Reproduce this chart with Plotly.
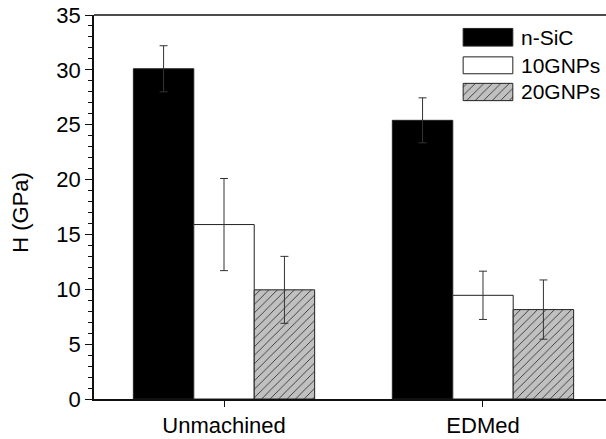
import plotly.graph_objects as go

categories = ["Unmachined", "EDMed"]
series_names = ["n-SiC", "10GNPs", "20GNPs"]
nsic = [30.1, 25.4]
nsic_err = [2.1, 2.05]
g10 = [15.9, 9.45]
g10_err = [4.2, 2.2]
g20 = [9.95, 8.15]
g20_err = [3.05, 2.7]

FONT = "Liberation Sans, Arial, sans-serif"
FS = 22
xpos = list(range(len(categories)))

fig = go.Figure()

def err(vals):
    return dict(type="data", array=vals, visible=True, color="#333333", thickness=1, width=4)

fig.add_trace(go.Bar(x=xpos, y=nsic, name=series_names[0], error_y=err(nsic_err),
                     marker=dict(color="#000000", line=dict(color="#222222", width=1)),
                     showlegend=False))
fig.add_trace(go.Bar(x=xpos, y=g10, name=series_names[1], error_y=err(g10_err),
                     marker=dict(color="#ffffff", line=dict(color="#222222", width=1)),
                     showlegend=False))
fig.add_trace(go.Bar(x=xpos, y=g20, name=series_names[2], error_y=err(g20_err),
                     marker=dict(color="#c0c0c0", line=dict(color="#222222", width=1),
                                 pattern=dict(shape="/", fgcolor="#333333", bgcolor="#c0c0c0",
                                              size=6, solidity=0.15, fillmode="replace")),
                     showlegend=False))

# custom legend swatches (paper-like overlay axes)
lx0, lx1 = 0.721, 0.818
rows = [(0.919, 0.965), (0.847, 0.891), (0.777, 0.822)]
fills = ["#000000", "#ffffff", "#c0c0c0"]
for i, (y0, y1) in enumerate(rows):
    kw = dict(x=[lx0, lx1, lx1, lx0, lx0], y=[y0, y0, y1, y1, y0], mode="lines",
              fill="toself", fillcolor=fills[i], line=dict(color="#222222", width=1),
              xaxis="x2", yaxis="y2", showlegend=False, hoverinfo="skip")
    if i == 2:
        kw["fillpattern"] = dict(shape="/", fgcolor="#333333", bgcolor="#c0c0c0",
                                 size=6, solidity=0.15, fillmode="replace")
    fig.add_trace(go.Scatter(**kw))
    fig.add_annotation(x=0.830, y=(y0 + y1) / 2, xref="paper", yref="paper",
                       text=series_names[i], showarrow=False, xanchor="left", yanchor="middle",
                       font=dict(family=FONT, size=21, color="#000000"))

# y-axis title
fig.add_annotation(x=-0.143, y=0.487, xref="paper", yref="paper", text="H (GPa)",
                   textangle=-90, showarrow=False, xanchor="center", yanchor="middle",
                   font=dict(family=FONT, size=FS, color="#000000"))

# top frame line
fig.add_shape(type="line", xref="paper", yref="paper", x0=0, x1=1.02, y0=1, y1=1,
              line=dict(color="#111111", width=1.5))

fig.update_layout(
    width=606, height=439,
    margin=dict(l=94, r=0, t=15, b=40, autoexpand=False),
    paper_bgcolor="white", plot_bgcolor="white",
    barmode="group", bargap=0.3, bargroupgap=0,
    font=dict(family=FONT, size=FS, color="#000000"),
    xaxis=dict(range=[-0.502, 1.475], tickvals=xpos, ticktext=categories, automargin=False,
               showline=True, linecolor="#111111", linewidth=1.5, mirror=False,
               ticks="outside", ticklen=6, tickcolor="#111111", showgrid=False, zeroline=False),
    yaxis=dict(range=[0, 35], dtick=5, showline=True, linecolor="#111111", linewidth=1.5,
               automargin=False, mirror=False,
               ticks="outside", ticklen=7, tickcolor="#111111", showgrid=False, zeroline=False,
               minor=dict(dtick=1, ticks="outside", ticklen=4, tickcolor="#111111")),
    xaxis2=dict(overlaying="x", range=[0, 1], visible=False, showline=False, fixedrange=True),
    yaxis2=dict(overlaying="y", range=[0, 1], visible=False, showline=False, fixedrange=True),
)

fig.write_html("out.html", config={"displayModeBar": False},
               post_script="document.body.style.margin='0';"
                           "document.body.style.overflow='hidden';"
                           "document.documentElement.style.overflow='hidden';")
